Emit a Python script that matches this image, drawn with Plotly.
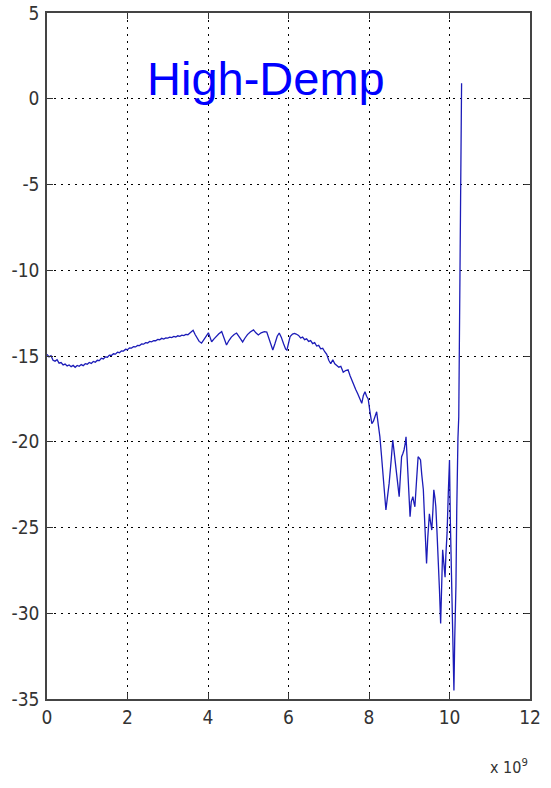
import plotly.graph_objects as go

# Frequency in units of 1e9 Hz (GHz) and response in dB
freq_ghz = [
    0.00, 0.05, 0.10, 0.15, 0.20, 0.25, 0.30, 0.35, 0.40, 0.45,
    0.50, 0.55, 0.60, 0.65, 0.70, 0.75, 0.80, 0.85, 0.90, 0.95,
    1.00, 1.05, 1.10, 1.15, 1.20, 1.25, 1.30, 1.35, 1.40, 1.45,
    1.50, 1.55, 1.60, 1.65, 1.70, 1.75, 1.80, 1.85, 1.90, 1.95,
    2.00, 2.05, 2.10, 2.15, 2.20, 2.25, 2.30, 2.35, 2.40, 2.45,
    2.50, 2.55, 2.60, 2.65, 2.70, 2.75, 2.80, 2.85, 2.90, 2.95,
    3.00, 3.05, 3.10, 3.15, 3.20, 3.25, 3.30, 3.35, 3.40, 3.45,
    3.50, 3.55, 3.60, 3.63, 3.68, 3.73, 3.78, 3.84, 3.90, 3.95,
    4.01, 4.05, 4.09, 4.15, 4.20, 4.27, 4.34, 4.40, 4.46, 4.52,
    4.58, 4.65, 4.71, 4.78, 4.86, 4.92, 4.98, 5.05, 5.13, 5.19,
    5.25, 5.32, 5.40, 5.46, 5.52, 5.57, 5.61, 5.66, 5.72, 5.77,
    5.82, 5.88, 5.93, 5.96, 6.00, 6.04, 6.10, 6.15, 6.19, 6.25,
    6.30, 6.35, 6.40, 6.45, 6.50, 6.55, 6.60, 6.65, 6.70, 6.75,
    6.80, 6.85, 6.90, 6.95, 7.00, 7.05, 7.10, 7.15, 7.20, 7.25,
    7.30, 7.36, 7.42, 7.48, 7.53, 7.58, 7.62, 7.67, 7.72, 7.78,
    7.82, 7.86, 7.90, 7.94, 7.98, 8.02, 8.07, 8.11, 8.15, 8.19,
    8.23, 8.27, 8.31, 8.36, 8.39, 8.42, 8.46, 8.50, 8.55, 8.59,
    8.62, 8.65, 8.69, 8.72, 8.75, 8.78, 8.81, 8.84, 8.87, 8.90,
    8.92, 8.95, 8.98, 9.02, 9.05, 9.09, 9.12, 9.14, 9.18, 9.22,
    9.25, 9.28, 9.31, 9.35, 9.39, 9.43, 9.46, 9.50, 9.53, 9.56,
    9.59, 9.61, 9.64, 9.66, 9.69, 9.72, 9.75, 9.78, 9.81, 9.83,
    9.86, 9.89, 9.91, 9.94, 9.97, 10.00, 10.02, 10.05, 10.08, 10.11,
    10.13, 10.16, 10.18, 10.19, 10.21, 10.23, 10.25, 10.27, 10.29, 10.30,
]

response_db = [
    -14.90, -15.05, -14.98, -15.25, -15.30, -15.22, -15.42, -15.38, -15.52, -15.47,
    -15.58, -15.52, -15.62, -15.55, -15.66, -15.55, -15.60, -15.50, -15.56, -15.45,
    -15.48, -15.38, -15.43, -15.32, -15.36, -15.25, -15.27, -15.13, -15.17, -15.05,
    -15.07, -14.95, -14.97, -14.87, -14.89, -14.78, -14.81, -14.70, -14.71, -14.61,
    -14.63, -14.53, -14.54, -14.45, -14.47, -14.38, -14.39, -14.30, -14.31, -14.22,
    -14.24, -14.15, -14.17, -14.10, -14.11, -14.03, -14.05, -13.97, -14.01, -13.94,
    -13.96, -13.90, -13.93, -13.86, -13.89, -13.82, -13.85, -13.78, -13.81, -13.74,
    -13.76, -13.64, -13.56, -13.50, -13.75, -13.95, -14.15, -14.25, -14.05, -13.85,
    -13.65, -13.90, -14.17, -14.00, -13.85, -13.70, -13.58, -13.95, -14.36, -14.10,
    -13.90, -13.75, -13.66, -13.90, -14.18, -13.95, -13.75, -13.60, -13.48, -13.65,
    -13.77, -13.65, -13.58, -13.60, -14.00, -14.45, -14.65, -14.30, -13.85, -13.66,
    -13.90, -14.30, -14.60, -14.66, -14.20, -13.87, -13.72, -13.68, -13.72, -13.80,
    -13.95, -13.90, -14.05, -14.00, -14.15, -14.10, -14.28, -14.22, -14.42, -14.38,
    -14.58, -14.55, -14.75, -14.90, -15.25, -15.45, -15.22, -15.45, -15.55, -15.65,
    -15.60, -15.95, -15.85, -15.80, -16.15, -16.40, -16.70, -16.95, -17.20, -17.55,
    -17.76, -17.30, -17.08, -17.35, -17.50, -18.20, -18.95, -18.80, -18.50, -18.25,
    -19.00, -19.70, -20.80, -22.04, -23.00, -23.98, -23.20, -22.43, -21.10, -19.90,
    -20.50, -21.06, -22.04, -22.60, -23.20, -22.00, -20.87, -20.70, -20.48, -20.10,
    -19.71, -21.06, -22.70, -24.37, -23.50, -23.20, -23.60, -23.79, -22.30, -20.87,
    -20.95, -21.06, -21.90, -22.80, -25.00, -27.10, -25.60, -24.20, -24.70, -25.15,
    -23.90, -22.80, -23.30, -23.79, -25.30, -26.70, -28.60, -30.60, -28.40, -26.30,
    -27.10, -27.90, -26.60, -25.30, -23.00, -21.06, -24.50, -27.90, -31.20, -34.50,
    -31.50, -28.40, -24.00, -21.06, -19.80, -18.54, -14.00, -8.00, -3.00, 0.90,
]

x_ticks = [0, 2, 4, 6, 8, 10, 12]
x_tick_labels = ["0", "2", "4", "6", "8", "10", "12"]
y_ticks = [5, 0, -5, -10, -15, -20, -25, -30, -35]
y_tick_labels = ["5", "0", "-5", "-10", "-15", "-20", "-25", "-30", "-35"]

title_text = "High-Demp"
x_multiplier_text = "x 10<sup>9</sup>"

fig = go.Figure()
fig.add_trace(go.Scatter(
    x=freq_ghz, y=response_db, mode="lines",
    line=dict(color="#1c1cb8", width=1.3),
    showlegend=False,
))

tick_font = dict(family="DejaVu Sans Condensed, Liberation Sans Narrow, sans-serif",
                 size=19, color="#333333")

axis_common = dict(
    showline=True, linecolor="#444444", linewidth=1.5, mirror="ticks",
    ticks="inside", ticklen=6, tickcolor="#333333", tickwidth=1.2,
    showgrid=True, gridcolor="#000000", gridwidth=1, griddash="1.5px,5.5px",
    zeroline=False, tickfont=tick_font, automargin=False,
)

fig.update_layout(
    width=551, height=788,
    margin=dict(l=47, r=21, t=13, b=89),
    paper_bgcolor="white", plot_bgcolor="white",
    xaxis=dict(range=[0, 12], tickmode="array", tickvals=x_ticks,
               ticktext=x_tick_labels, **axis_common),
    yaxis=dict(range=[-35, 5], tickmode="array", tickvals=y_ticks,
               ticktext=y_tick_labels, ticklabelstandoff=2, **axis_common),
)

fig.add_annotation(
    text=title_text, x=5.45, y=-0.5, xref="x", yref="y",
    showarrow=False, xanchor="center", yanchor="bottom",
    font=dict(family="Liberation Sans, Arial, sans-serif", size=47, color="#0000ff"),
)

# multiplier label below the right end of the x axis
fig.add_annotation(
    text=x_multiplier_text, xref="paper", yref="paper",
    x=1.0, y=-0.08, xanchor="right", yanchor="top", showarrow=False,
    font=dict(family="DejaVu Sans Condensed, Liberation Sans Narrow, sans-serif",
              size=16, color="#333333"),
)

fig.write_html("out.html")
